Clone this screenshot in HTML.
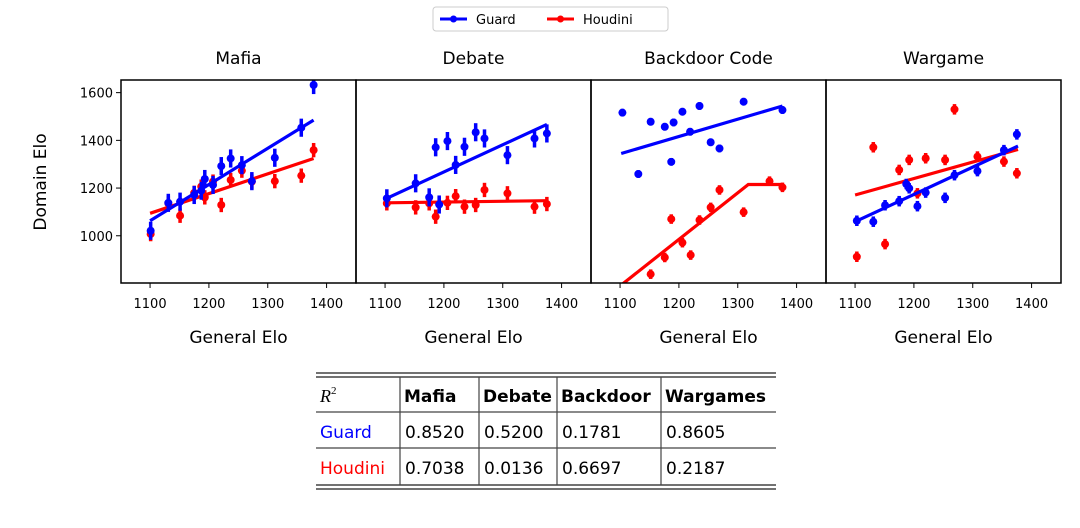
<!DOCTYPE html>
<html><head><meta charset="utf-8"><style>
html,body{margin:0;padding:0;background:#fff;}
svg{display:block;font-family:"DejaVu Sans","Liberation Sans",sans-serif;}
</style></head><body>
<svg id="chart" width="1080" height="528" viewBox="0 0 1080 528"></svg>
<script>
const panelTitles = ["Mafia","Debate","Backdoor Code","Wargame"];
const xTicks = [1100,1200,1300,1400];
const yTicks = [1000,1200,1400,1600];
// Mafia
const mafiaGuardX = [1101,1131,1151,1175,1187,1193,1207,1221,1237,1256,1273,1312,1357,1378];
const mafiaGuardY = [1021,1138,1143,1171,1189,1238,1213,1292,1324,1296,1229,1327,1453,1632];
const mafiaHoudiniX = [1101,1131,1151,1175,1187,1193,1207,1221,1237,1256,1273,1312,1357,1378];
const mafiaHoudiniY = [1007,1136,1084,1180,1206,1161,1227,1129,1234,1273,1227,1229,1252,1359];
const mafiaGuardFit = [[1100,1063],[1378,1485]];
const mafiaHoudiniFit = [[1100,1094],[1378,1324]];
// Debate
const debateGuardX = [1103,1152,1175,1186,1192,1206,1220,1235,1254,1269,1308,1354,1375];
const debateGuardY = [1157,1220,1161,1371,1131,1397,1297,1373,1434,1408,1338,1408,1429];
const debateHoudiniX = [1103,1152,1175,1186,1192,1206,1220,1235,1254,1269,1308,1354,1375];
const debateHoudiniY = [1136,1119,1136,1080,1133,1138,1166,1122,1129,1192,1178,1122,1133];
const debateGuardFit = [[1103,1157],[1375,1467]];
const debateHoudiniFit = [[1103,1138],[1375,1147]];
// Backdoor
const backdoorGuardX = [1104,1131,1152,1176,1187,1191,1206,1219,1235,1254,1269,1310,1376];
const backdoorGuardY = [1516,1259,1478,1457,1310,1475,1520,1436,1544,1392,1366,1562,1527];
const backdoorHoudiniX = [1152,1176,1187,1206,1220,1235,1254,1269,1310,1354,1376];
const backdoorHoudiniY = [839,909,1070,971,919,1066,1119,1192,1099,1229,1203];
const backdoorGuardFit = [[1102,1345],[1376,1544]];
const backdoorHoudiniFit = [[1090,770],[1318,1215],[1376,1215]];
// Wargame
const wargameGuardX = [1103,1131,1151,1175,1187,1192,1206,1220,1253,1269,1308,1353,1375];
const wargameGuardY = [1063,1059,1128,1145,1217,1199,1124,1181,1159,1254,1271,1359,1425];
const wargameHoudiniX = [1103,1131,1151,1175,1192,1206,1220,1253,1269,1308,1353,1375];
const wargameHoudiniY = [912,1371,965,1276,1318,1178,1325,1318,1530,1332,1311,1262];
const wargameGuardFit = [[1100,1059],[1377,1376]];
const wargameHoudiniFit = [[1100,1171],[1377,1362]];
// Table
const tableCols = ["Mafia","Debate","Backdoor","Wargames"];
const guardR2 = ["0.8520","0.5200","0.1781","0.8605"];
const houdiniR2 = ["0.7038","0.0136","0.6697","0.2187"];

const panels = [
 {gx:mafiaGuardX,gy:mafiaGuardY,hx:mafiaHoudiniX,hy:mafiaHoudiniY,gf:mafiaGuardFit,hf:mafiaHoudiniFit,eg:38,eh:30},
 {gx:debateGuardX,gy:debateGuardY,hx:debateHoudiniX,hy:debateHoudiniY,gf:debateGuardFit,hf:debateHoudiniFit,eg:38,eh:30},
 {gx:backdoorGuardX,gy:backdoorGuardY,hx:backdoorHoudiniX,hy:backdoorHoudiniY,gf:backdoorGuardFit,hf:backdoorHoudiniFit,eg:16,eh:20},
 {gx:wargameGuardX,gy:wargameGuardY,hx:wargameHoudiniX,hy:wargameHoudiniY,gf:wargameGuardFit,hf:wargameHoudiniFit,eg:22,eh:22}
];
const NS="http://www.w3.org/2000/svg";
const svg=document.getElementById('chart');
function mk(tag,attrs,parent,text){const e=document.createElementNS(NS,tag);for(const k in attrs)e.setAttribute(k,attrs[k]);if(text!==undefined)e.textContent=text;(parent||svg).appendChild(e);return e;}
const PW=235, TOP=80, BOT=283, X0=1050.6, X1=1450, Y0=802, Y1=1653;
const BLUE="#0000ff", RED="#ff0000";
function xs(i,v){return 121+i*PW+(v-X0)/(X1-X0)*PW;}
function ys(v){return BOT-(v-Y0)/(Y1-Y0)*(BOT-TOP);}
const defs=mk('defs',{});
panels.forEach((p,i)=>{
  const cp=mk('clipPath',{id:'clip'+i},defs);
  mk('rect',{x:121+i*PW,y:TOP,width:PW,height:BOT-TOP},cp);
});
panels.forEach((p,i)=>{
  const g=mk('g',{});
  
  
  const t=mk('text',{x:121+i*PW+PW/2,y:64,'text-anchor':'middle','font-size':17},g,panelTitles[i]);
  
  
  const plot=mk('g',{'clip-path':'url(#clip'+i+')'},g);
  function series(xa,ya,fit,col,err,name){
    const sg=mk('g',{},plot);
    
    
    const pts=fit.map(d=>xs(i,d[0]).toFixed(1)+','+ys(d[1]).toFixed(1)).join(' ');
    const fl=mk('polyline',{points:pts,fill:'none',stroke:col,'stroke-width':3.2},sg);
    
    
    xa.forEach((xv,k)=>{
      const cx=xs(i,xv), cy=ys(ya[k]);
      const eb=mk('line',{x1:cx,x2:cx,y1:ys(ya[k]+err),y2:ys(ya[k]-err),stroke:col,'stroke-width':3.5},sg);
      
      
      const c=mk('circle',{cx:cx,cy:cy,r:4,fill:col},sg);
      
      
    });
  }
  series(p.hx,p.hy,p.hf,RED,p.eh,'houdini');
  series(p.gx,p.gy,p.gf,BLUE,p.eg,'guard');
  const fr=mk('rect',{x:121+i*PW,y:TOP,width:PW,height:BOT-TOP,fill:'none',stroke:'#000','stroke-width':1.5},g);
  
  
  xTicks.forEach(v=>{
    const x=xs(i,v);
    mk('line',{x1:x,x2:x,y1:BOT,y2:BOT+5,stroke:'#000','stroke-width':1},g);
    const tl=mk('text',{x:x,y:BOT+25,'text-anchor':'middle','font-size':13},g,v);
    
    
  });
  const xl=mk('text',{x:121+i*PW+PW/2,y:343,'text-anchor':'middle','font-size':17},g,'General Elo');
  
  
});
yTicks.forEach(v=>{
  const y=ys(v);
  mk('line',{x1:116,x2:121,y1:y,y2:y,stroke:'#000','stroke-width':1});
  const tl=mk('text',{x:113,y:y+5,'text-anchor':'end','font-size':13},svg,v);
  
  
});
const yl=mk('text',{x:0,y:0,'text-anchor':'middle','font-size':17,transform:'translate(46,182) rotate(-90)'},svg,'Domain Elo');


// legend
const lg=mk('g',{});


mk('rect',{x:433,y:7,width:235,height:24,rx:3,fill:'#fff',stroke:'#ccc'},lg);
[["Guard",BLUE,440],["Houdini",RED,547]].forEach(d=>{
  const e=mk('g',{},lg);
  
  
  mk('line',{x1:d[2],x2:d[2]+27,y1:19,y2:19,stroke:d[1],'stroke-width':3},e);
  mk('circle',{cx:d[2]+13.5,cy:19,r:3.5,fill:d[1]},e);
  mk('text',{x:d[2]+36,y:24,'font-size':13},e,d[0]);
});
// table
const tb=mk('g',{'font-family':'"DejaVu Sans","Liberation Sans",sans-serif'});


const TL=316,TR=776;
[373,377,412,448,485,489].forEach((y,k)=>{
  mk('line',{x1:TL,x2:TR,y1:y,y2:y,stroke:'#444','stroke-width':(k==2||k==3)?1.2:1.5},tb);
});
const colX=[400,479,557,661];
colX.forEach(x=>mk('line',{x1:x,x2:x,y1:377,y2:485,stroke:'#444','stroke-width':1.2},tb));
const r2=mk('text',{x:320,y:402,'font-size':18,'font-style':'italic','font-family':'"Liberation Serif",serif'},tb,'R');
mk('tspan',{dy:-8,'font-size':11,'font-style':'normal'},r2,'2');
tableCols.forEach((c,k)=>{
  const t=mk('text',{x:colX[k]+4,y:402,'font-size':17,'font-weight':'bold'},tb,c);
  
  
});
mk('text',{x:320,y:438,'font-size':17,fill:BLUE},tb,'Guard');
mk('text',{x:320,y:474,'font-size':17,fill:RED},tb,'Houdini');
guardR2.forEach((v,k)=>{const t=mk('text',{x:colX[k]+5,y:438,'font-size':17},tb,v);
  
  });
houdiniR2.forEach((v,k)=>{const t=mk('text',{x:colX[k]+5,y:474,'font-size':17},tb,v);
  
  });
</script>
</body></html>
